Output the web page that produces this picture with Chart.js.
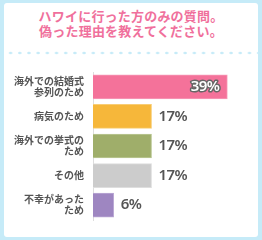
<!DOCTYPE html>
<html><head><meta charset="utf-8">
<script src="https://cdn.jsdelivr.net/npm/chart.js@4"></script>
<style>
html,body{margin:0;padding:0;}
body{width:262px;height:240px;background:#c6ebf8;position:relative;overflow:hidden;font-family:"Noto Sans CJK JP","Noto Sans",sans-serif;}
#panel{position:absolute;left:4px;top:3px;width:254px;height:234px;background:#fff;border-radius:3px;}
#title{position:absolute;left:0;top:8px;width:262px;text-align:center;color:#f0709c;font-weight:bold;font-size:13px;line-height:15px;letter-spacing:0.2px;}
#dots{position:absolute;left:6px;top:51px;width:252px;height:4px;background-image:radial-gradient(circle,#c6ebf8 1.4px,transparent 1.6px);background-size:9.2px 4px;background-position:0 0;}
#c{position:absolute;left:0;top:0;}
</style></head>
<body>
<div id="panel"></div>
<div id="title">ハワイに行った方のみの質問。<br>偽った理由を教えてください。</div>
<div id="dots"></div>
<canvas id="c" width="262" height="240"></canvas>
<script>
const categories = [["海外での結婚式","参列のため"],"病気のため",["海外での挙式の","ため"],"その他",["不幸があった","ため"]];
const values = [39,17,17,17,6];
const barColors = ["#f4729a","#f6b73a","#9fae6a","#cccccc","#9e86c1"];
const borderColors = ["#f79bb8","#f8cd75","#bcc897","#dedede","#bba9d4"];

const valueLabels = {
  id:'valueLabels',
  afterDatasetsDraw(chart){
    const ctx = chart.ctx;
    const meta = chart.getDatasetMeta(0);
    ctx.save();
    ctx.font = '600 15px "Noto Sans","Noto Sans CJK JP",sans-serif';
    try{ctx.letterSpacing='-0.6px';}catch(e){}
    ctx.textBaseline = 'middle';
    meta.data.forEach((bar,i)=>{
      const t = values[i] + '%';
      if(i===0){
        ctx.textAlign='right';
        ctx.lineJoin='round';
        ctx.lineWidth=3;
        ctx.strokeStyle='#666666';
        ctx.strokeText(t, bar.x-8, bar.y);
        ctx.fillStyle='#ffffff';
        ctx.fillText(t, bar.x-8, bar.y);
      } else {
        ctx.textAlign='left';
        ctx.fillStyle='#555555';
        ctx.fillText(t, bar.x+7, bar.y);
      }
    });
    ctx.restore();
  }
};

new Chart(document.getElementById('c'),{
  type:'bar',
  data:{labels:categories,datasets:[{data:values,backgroundColor:barColors,borderColor:borderColors,borderWidth:1,borderSkipped:'left',barThickness:24}]},
  options:{
    indexAxis:'y',
    responsive:false,
    animation:false,
    layout:{padding:{left:0,right:14,top:72,bottom:20}},
    plugins:{legend:{display:false},tooltip:{enabled:false}},
    scales:{
      x:{display:false,min:0,max:45},
      y:{
        afterFit(s){s.width=93;},
        grid:{display:false,drawTicks:false},
        border:{display:true,color:'#dddddd',width:1},
        ticks:{color:'#555555',padding:9,font:{family:'"Noto Sans CJK JP","Noto Sans",sans-serif',size:10,weight:'bold',lineHeight:1.1}}
      }
    }
  },
  plugins:[valueLabels]
});
</script>
</body></html>
